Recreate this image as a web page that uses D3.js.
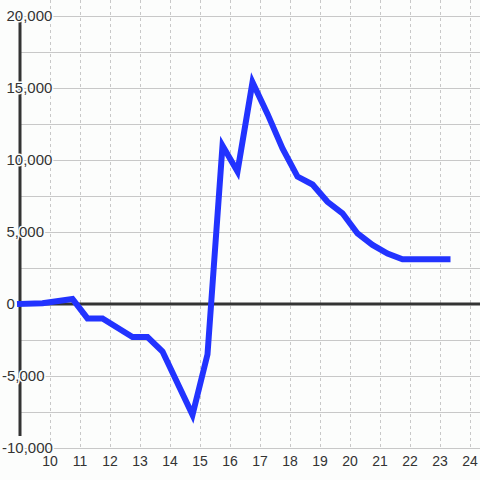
<!DOCTYPE html>
<html>
<head>
<meta charset="utf-8">
<script src="https://cdn.jsdelivr.net/npm/d3@7"></script>
<style>
  body { margin: 0; background: #fcfdfc; }
  svg { display: block; }
</style>
</head>
<body>
<div id="chart"></div>
<script>
// data
const hours = [9.0, 9.75, 10.75, 11.25, 11.75, 12.75, 13.25, 13.75, 14.75, 15.25, 15.75, 16.25, 16.75,
    17.25, 17.75, 18.25, 18.75, 19.25, 19.75, 20.25, 20.75, 21.25, 21.75, 22.25, 22.75, 23.25];
const values = [0, 50, 350, -1000, -1000, -2300, -2300, -3300, -7700, -3500, 11000, 9200, 15400,
    13200, 10800, 8850, 8300, 7100, 6300, 4900, 4100, 3500, 3100, 3100, 3100, 3100];
const xTicks = [10, 11, 12, 13, 14, 15, 16, 17, 18, 19, 20, 21, 22, 23, 24];
const yTicks = [20000, 15000, 10000, 5000, 0, -5000, -10000];
const yGrid = [20000, 17500, 15000, 12500, 10000, 7500, 5000, 2500, 0, -2500, -5000, -7500, -10000];

const width = 480, height = 480;
const font = "'Liberation Sans', Arial, sans-serif";

const svg = d3.select("#chart").append("svg")
    .attr("width", width)
    .attr("height", height);

const x = d3.scaleLinear().domain([9, 24 + 1 / 3]).range([20, 480]);
const y = d3.scaleLinear().domain([-10000, 20000]).range([448, 16]);

// grille verticale pointillée
svg.append("g").selectAll("line")
    .data(xTicks)
    .join("line")
    .attr("x1", d => x(d) + 0.5).attr("x2", d => x(d) + 0.5)
    .attr("y1", 0).attr("y2", y(-10000))
    .style("stroke", "#c8c8c8")
    .style("stroke-dasharray", "3,3");

// grille horizontale
svg.append("g").selectAll("line")
    .data(yGrid)
    .join("line")
    .attr("x1", 20).attr("x2", width)
    .attr("y1", d => Math.round(y(d)) + 0.5).attr("y2", d => Math.round(y(d)) + 0.5)
    .style("stroke", "#c8c8c8");

// axe vertical épais
svg.append("line")
    .attr("x1", 20).attr("x2", 20)
    .attr("y1", y(20000)).attr("y2", y(-10000) - 12)
    .style("stroke", "#333")
    .style("stroke-width", 3);

// ligne du zéro
svg.append("line")
    .attr("x1", 20).attr("x2", width)
    .attr("y1", y(0)).attr("y2", y(0))
    .style("stroke", "#333")
    .style("stroke-width", 3);

// étiquettes de l'axe y avec halo (le signe moins dépasse à gauche)
svg.append("g").selectAll("text")
    .data(yTicks)
    .join("text")
    .attr("x", d => d < 0 ? 2 : 6.5)
    .attr("y", d => y(d))
    .attr("dy", "0.36em")
    .attr("text-anchor", "start")
    .style("font-family", font)
    .style("font-size", "15px")
    .style("fill", "#333")
    .style("stroke", "#fcfdfc")
    .style("stroke-width", 3)
    .style("paint-order", "stroke")
    .text(d => d3.format(",")(d).replace("−", "-"));

// étiquettes de l'axe x
svg.append("g").selectAll("text")
    .data(xTicks)
    .join("text")
    .attr("x", d => x(d))
    .attr("y", 466)
    .attr("text-anchor", "middle")
    .style("font-family", font)
    .style("font-size", "14px")
    .style("fill", "#333")
    .text(d => d);

// la courbe
const line = d3.line()
    .x((d, i) => x(hours[i]))
    .y(d => y(d));

svg.append("path")
    .datum(values)
    .attr("d", line)
    .style("fill", "none")
    .style("stroke", "#2233ff")
    .style("stroke-width", 6)
    .style("stroke-linecap", "square");
</script>
</body>
</html>
